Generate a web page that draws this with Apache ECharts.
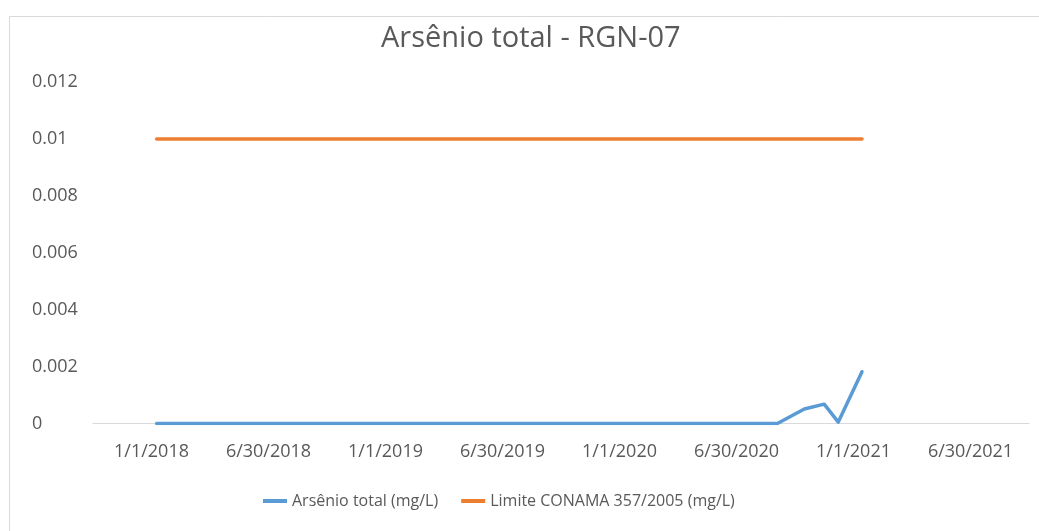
<!DOCTYPE html>
<html>
<head>
<meta charset="utf-8">
<title>Arsênio total - RGN-07</title>
<script src="https://cdn.jsdelivr.net/npm/echarts@6/dist/echarts.min.js"></script>
<style>
    html, body { margin: 0; padding: 0; background: #fff; }
</style>
</head>
<body>
<!--gráfico-->
<div id="chart" style="width: 1039px;height: 531px;"></div>
<script>
    // rótulos do eixo x (meio de cada semestre)
    var xLabels = ['1/1/2018', '6/30/2018', '1/1/2019', '6/30/2019', '1/1/2020', '6/30/2020', '1/1/2021', '6/30/2021'];
    var yTicks = [0, 0.002, 0.004, 0.006, 0.008, 0.01, 0.012];

    // datas das coletas
    var sampleDates = ['2018-01-09', '2018-02-06', '2018-04-05', '2018-06-06', '2018-07-12', '2018-08-31',
        '2018-10-11', '2018-12-04', '2019-01-11', '2019-03-19', '2019-05-08', '2019-06-24', '2019-09-07',
        '2019-11-08', '2019-12-06', '2020-01-29', '2020-02-13', '2020-03-09', '2020-04-01', '2020-06-03',
        '2020-06-26', '2020-08-18', '2020-09-04', '2020-10-16', '2020-11-16', '2020-12-08', '2021-01-14'];
    var arsenio = [0, 0, 0, 0, 0, 0, 0, 0, 0, 0, 0, 0, 0, 0, 0, 0, 0, 0, 0, 0, 0, 0, 0,
        0.00051, 0.00068, 0.00005, 0.00182];
    var limite = [0.01, 0.01, 0.01, 0.01, 0.01, 0.01, 0.01, 0.01, 0.01, 0.01, 0.01, 0.01, 0.01, 0.01,
        0.01, 0.01, 0.01, 0.01, 0.01, 0.01, 0.01, 0.01, 0.01, 0.01, 0.01, 0.01, 0.01];

    var HALF_YEAR = 182.625;   // dias por semestre
    var t0 = Date.UTC(2018, 0, 1);

    // dia relativo a 1/1/2018
    function dayOf(d) {
        return (Date.parse(d + 'T00:00:00Z') - t0) / 86400000;
    }
    function pairs(values) {
        return sampleDates.map(function (d, i) {
            return [dayOf(d), values[i]];
        });
    }

    var labelStyle = {color: '#595959', fontFamily: 'Open Sans', fontSize: 18};
    var myChart = echarts.init(document.getElementById('chart'));
    myChart.setOption({
        animation: false,
        title: {
            text: 'Arsênio total - RGN-07',
            left: 376,
            top: 19,
            textStyle: {color: '#595959', fontFamily: 'Open Sans', fontSize: 29, fontWeight: 'normal'}
        },
        graphic: [{
            type: 'rect',
            shape: {x: 9.5, y: 16.5, width: 1100, height: 600},
            style: {fill: 'none', stroke: '#d9d9d9', lineWidth: 1},
            silent: true
        }],
        legend: {
            left: 258,
            top: 488,
            icon: 'rect',
            itemWidth: 24,
            itemHeight: 4,
            itemGap: 23,
            textStyle: {color: '#595959', fontFamily: 'Open Sans', fontSize: 16},
            data: ['Arsênio total (mg/L)', 'Limite CONAMA 357/2005 (mg/L)']
        },
        grid: {left: 93, right: 10, top: 82, bottom: 107.5},
        xAxis: [
            {
                // eixo visível: rótulos centrados entre as marcas
                type: 'category',
                data: xLabels,
                boundaryGap: true,
                axisLine: {lineStyle: {color: '#d9d9d9', width: 1}},
                axisTick: {length: 7, lineStyle: {color: '#d9d9d9'}},
                axisLabel: Object.assign({margin: 19, interval: 0}, labelStyle),
                splitLine: {show: false}
            },
            {
                // eixo de datas (dias desde 1/1/2018), escondido
                type: 'value',
                show: false,
                min: -HALF_YEAR / 2,
                max: HALF_YEAR * xLabels.length - HALF_YEAR / 2,
                splitLine: {show: false}
            }
        ],
        yAxis: {
            type: 'value',
            min: yTicks[0],
            max: yTicks[yTicks.length - 1],
            interval: 0.002,
            axisLine: {show: false},
            axisTick: {show: false},
            splitLine: {show: false},
            axisLabel: Object.assign({align: 'left', margin: 61}, labelStyle)
        },
        series: [
            {
                name: 'Arsênio total (mg/L)',
                type: 'line',
                xAxisIndex: 1,
                data: pairs(arsenio),
                showSymbol: false,
                color: '#5B9BD5',
                lineStyle: {width: 3.5, cap: 'round', join: 'round'}
            },
            {
                name: 'Limite CONAMA 357/2005 (mg/L)',
                type: 'line',
                xAxisIndex: 1,
                data: pairs(limite),
                showSymbol: false,
                color: '#ED7D31',
                lineStyle: {width: 3.5, cap: 'round', join: 'round'}
            }
        ]
    });
</script>
</body>
</html>
